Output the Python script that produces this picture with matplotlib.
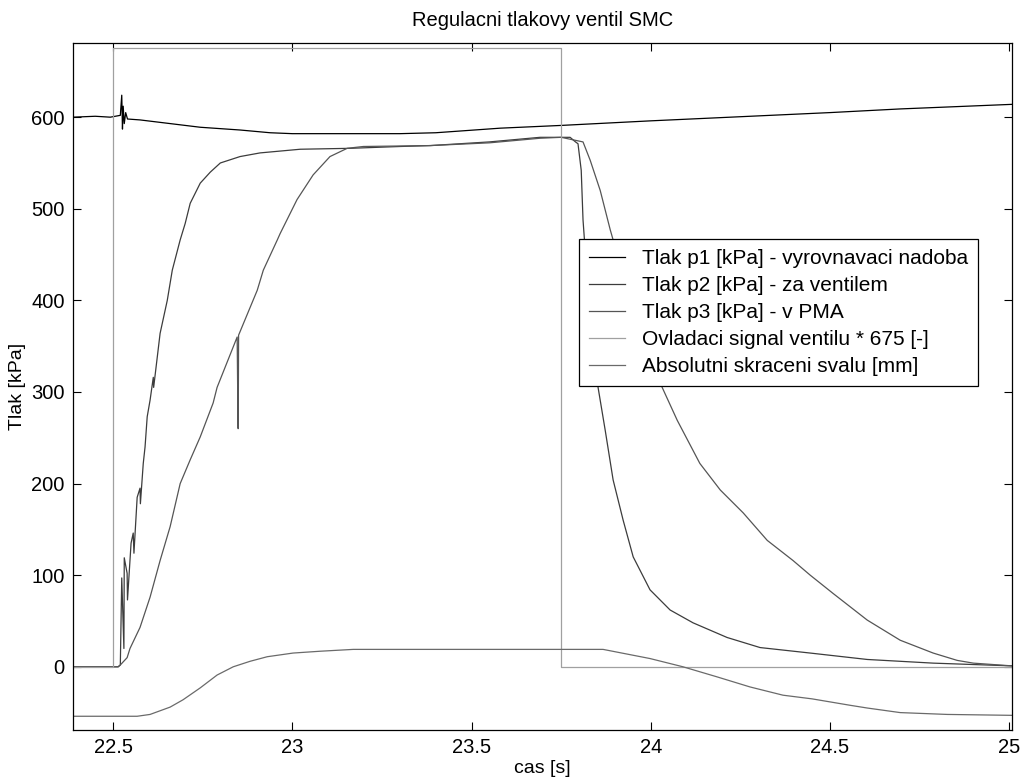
import matplotlib
matplotlib.use("Agg")
import matplotlib.pyplot as plt

plt.rcParams['font.family'] = ['Liberation Sans', 'DejaVu Sans']

# p1 - tlak ve vyrovnavaci nadobe
t_p1 = [22.388, 22.45, 22.492, 22.52, 22.524, 22.526, 22.528, 22.531, 22.535, 22.54,
        22.575, 22.659, 22.743, 22.854, 22.938, 23.0, 23.3, 23.4, 23.58, 23.75,
        24.0, 24.5, 24.696, 25.008]
p1 = [600, 601, 600, 602, 624, 587, 612, 593, 605, 598,
      597, 593, 589, 586, 583, 582, 582, 583, 588, 591,
      596, 605, 609, 614]

# p2 - za ventilem
t_p2 = [22.388, 22.514, 22.520, 22.524, 22.530, 22.531, 22.539, 22.540, 22.550, 22.556,
        22.558, 22.567, 22.575, 22.576, 22.584, 22.589, 22.595, 22.603, 22.612, 22.613,
        22.631, 22.651, 22.665, 22.687, 22.701, 22.715, 22.743, 22.771, 22.799, 22.854,
        22.910, 23.022, 23.161, 23.301, 23.385, 23.55, 23.691, 23.775, 23.790, 23.797,
        23.806, 23.811, 23.817, 23.853, 23.873, 23.895, 23.923, 23.951, 23.998, 24.054,
        24.118, 24.213, 24.305, 24.445, 24.604, 24.788, 25.008]
p2 = [0, 0, 2, 97, 20, 119, 102, 73, 135, 146,
      124, 185, 195, 178, 222, 240, 273, 291, 316, 305,
      364, 400, 433, 466, 484, 506, 528, 540, 550, 557,
      561, 565, 566, 568, 569, 573, 578, 578, 573, 571,
      542, 488, 455, 305, 258, 204, 160, 120, 84, 62,
      48, 32, 21, 15, 8, 4, 1]

# p3 - v PMA
t_p3 = [22.388, 22.514, 22.520, 22.539, 22.547, 22.575, 22.603, 22.631, 22.659, 22.687,
        22.715, 22.743, 22.779, 22.790, 22.846, 22.8485, 22.849, 22.850, 22.902, 22.919,
        22.958, 22.966, 23.013, 23.058, 23.105, 23.153, 23.198, 23.385, 23.55, 23.691,
        23.75, 23.811, 23.831, 23.859, 23.887, 23.895, 24.026, 24.074, 24.137, 24.194,
        24.258, 24.325, 24.397, 24.445, 24.509, 24.604, 24.696, 24.788, 24.855, 24.900,
        25.008]
p3 = [0, 0, 2, 10, 20, 43, 76, 116, 153, 200,
      226, 251, 288, 305, 360, 260, 260, 362, 411, 433,
      466, 473, 510, 537, 557, 566, 568, 569, 572, 577,
      578, 573, 553, 520, 477, 466, 310, 269, 222, 193,
      168, 138, 116, 100, 80, 51, 29, 15, 7, 4,
      1]

# ovladaci signal ventilu * 675
t_sig = [22.388, 22.5, 22.5, 23.75, 23.75, 25.008]
sig = [0, 0, 675, 675, 0, 0]

# absolutni skraceni svalu
t_sk = [22.388, 22.567, 22.603, 22.659, 22.695, 22.743, 22.790, 22.835, 22.882, 22.930,
        23.002, 23.078, 23.170, 23.867, 23.998, 24.090, 24.185, 24.277, 24.369, 24.45,
        24.556, 24.604, 24.696, 24.827, 25.008]
sk = [-54, -54, -52, -44, -36, -23, -9, 0, 6, 11,
      15, 17, 19, 19, 9, 0, -11, -22, -31, -35,
      -42, -45, -50, -52, -53]

labels = ['Tlak p1 [kPa] - vyrovnavaci nadoba', 'Tlak p2 [kPa] - za ventilem',
          'Tlak p3 [kPa] - v PMA', 'Ovladaci signal ventilu * 675 [-]',
          'Absolutni skraceni svalu [mm]']

fig = plt.figure(figsize=(10.24, 7.8), dpi=100)
ax = fig.add_axes([0.0713, 0.0641, 0.9170, 0.8808])

ax.plot(t_p1, p1, color='#000000', lw=0.9, label=labels[0])
ax.plot(t_p2, p2, color='#3c3c3c', lw=0.9, label=labels[1])
ax.plot(t_p3, p3, color='#555555', lw=0.9, label=labels[2])
ax.plot(t_sig, sig, color='#a0a0a0', lw=0.9, label=labels[3])
ax.plot(t_sk, sk, color='#6a6a6a', lw=0.9, label=labels[4])

ax.set_xlim(22.388, 25.008)
ax.set_ylim(-69, 681)
ax.set_xticks([22.5, 23, 23.5, 24, 24.5, 25])
ax.set_xticklabels(['22.5', '23', '23.5', '24', '24.5', '25'])
ax.set_yticks([0, 100, 200, 300, 400, 500, 600])
ax.tick_params(direction='in', length=6, width=0.8, top=True, right=True, labelsize=14.5, pad=6)
for s in ax.spines.values():
    s.set_linewidth(0.9)

ax.set_title('Regulacni tlakovy ventil SMC', fontsize=14.5, pad=12)
ax.set_xlabel('cas [s]', fontsize=14, labelpad=2)
ax.set_ylabel('Tlak [kPa]', fontsize=14, labelpad=4)

leg = ax.legend(loc='upper left', bbox_to_anchor=(0.5389, 0.7147), borderaxespad=0,
                fontsize=15, frameon=True, fancybox=False, framealpha=1,
                edgecolor='black', handlelength=1.7, handletextpad=0.8,
                labelspacing=0.38, borderpad=0.5)
leg.get_frame().set_linewidth(0.9)

plt.savefig('out.png', dpi=100)
